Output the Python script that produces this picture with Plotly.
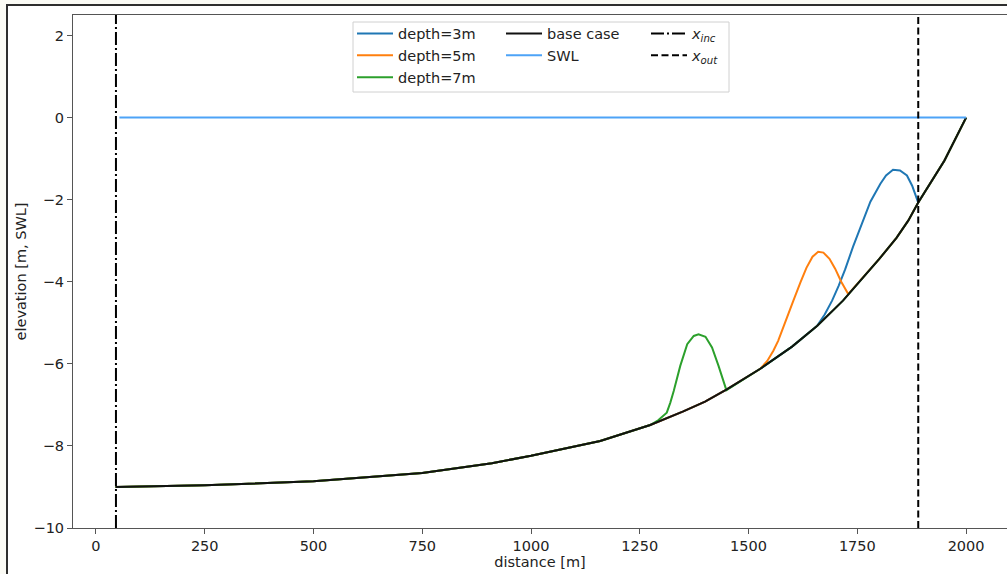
import plotly.graph_objects as go

# Cross-shore profile of the base case (distance along the transect, elevation re. SWL)
distance = [45, 250, 500, 750, 910, 1000, 1159, 1274, 1350, 1400, 1449, 1527, 1600,
            1658, 1717, 1767, 1800, 1840, 1867, 1890, 1950, 2000]
elevation = [-9.00, -8.96, -8.86, -8.66, -8.42, -8.24, -7.88, -7.49, -7.16, -6.92, -6.63,
             -6.12, -5.58, -5.07, -4.46, -3.85, -3.45, -2.93, -2.51, -2.07, -1.05, 0.00]

# Nourishment bumps placed at different crest depths
bump3_x = [1658, 1675, 1692, 1707, 1722, 1740, 1764, 1780, 1803, 1816, 1832, 1848, 1864, 1876, 1890]
bump3_z = [-5.07, -4.80, -4.46, -4.10, -3.70, -3.15, -2.51, -2.05, -1.61, -1.41, -1.27, -1.29,
           -1.41, -1.66, -2.07]

bump5_x = [1527, 1543, 1557, 1568, 1580, 1591, 1603, 1619, 1633, 1647, 1660, 1672, 1686,
           1699, 1713, 1729]
bump5_z = [-6.12, -5.93, -5.68, -5.44, -5.12, -4.80, -4.46, -4.02, -3.66, -3.39, -3.27,
           -3.29, -3.44, -3.68, -4.00, -4.30]

bump7_x = [1274, 1293, 1305, 1312, 1320, 1328, 1343, 1359, 1374, 1385, 1401, 1416, 1431, 1449]
bump7_z = [-7.49, -7.37, -7.27, -7.19, -6.95, -6.66, -6.05, -5.52, -5.32, -5.28, -5.34,
           -5.60, -6.05, -6.64]

# Still water level and boundary positions
swl_x = [54, 2000]
swl_z = [0, 0]
x_inc = 46
x_out = 1890

X_RANGE = [-52.75, 2094]
Y_RANGE = [-10, 2.5]
x_ticks = [0, 250, 500, 750, 1000, 1250, 1500, 1750, 2000]
y_ticks = [-10, -8, -6, -4, -2, 0, 2]

FONT = "DejaVu Sans"
TEXT = "#222222"
W, H = 1007, 574
ML, MR, MT, MB = 73, 0, 15, 46
PW, PH = W - ML - MR, H - MT - MB


def px_to_paper(px, py):
    return (px - ML) / PW, (H - MB - py) / PH


def with_bump(bx, bz):
    """Base profile with the bump section swapped in."""
    before = [(x, z) for x, z in zip(distance, elevation) if x < bx[0]]
    after = [(x, z) for x, z in zip(distance, elevation) if x > bx[-1]]
    xs = [p[0] for p in before] + bx + [p[0] for p in after]
    zs = [p[1] for p in before] + bz + [p[1] for p in after]
    return xs, zs


fig = go.Figure()

for name, bx, bz, color in [("depth=3m", bump3_x, bump3_z, "#1f77b4"),
                            ("depth=5m", bump5_x, bump5_z, "#ff7f0e"),
                            ("depth=7m", bump7_x, bump7_z, "#2ca02c")]:
    xs, zs = with_bump(bx, bz)
    fig.add_trace(go.Scatter(x=xs, y=zs, mode="lines", name=name,
                             line=dict(color=color, width=2), legend="legend"))

fig.add_trace(go.Scatter(x=distance, y=elevation, mode="lines", name="base case",
                         line=dict(color="#111111", width=2), legend="legend2"))
fig.add_trace(go.Scatter(x=swl_x, y=swl_z, mode="lines", name="SWL",
                         line=dict(color="#4da3f7", width=2), legend="legend2"))

fig.add_trace(go.Scatter(x=[x_inc, x_inc], y=Y_RANGE, mode="lines",
                         name="<i>x</i><sub><i>inc</i></sub>",
                         line=dict(color="black", width=2, dash="13px,3px,2px,3px"),
                         legend="legend3"))
fig.add_trace(go.Scatter(x=[x_out, x_out], y=Y_RANGE, mode="lines",
                         name="<i>x</i><sub><i>out</i></sub>",
                         line=dict(color="black", width=2, dash="7px,3.5px"),
                         legend="legend3"))

# Figure frame and legend box
fx0, fy1 = px_to_paper(7, 5)
lx0, ly0 = px_to_paper(353, 92)
lx1, ly1 = px_to_paper(729, 22)
shapes = [
    dict(type="rect", xref="paper", yref="paper", x0=fx0, x1=1.2, y0=-0.3, y1=fy1,
         line=dict(color="#2e2e2e", width=2), fillcolor="white", layer="below"),
    dict(type="rect", xref="paper", yref="paper", x0=lx0, x1=lx1, y0=ly0, y1=ly1,
         line=dict(color="#d0d0d0", width=1), fillcolor="white", layer="below"),
]

leg_common = dict(bgcolor="rgba(0,0,0,0)", borderwidth=0, xanchor="left", yanchor="top",
                  itemwidth=36, font=dict(family=FONT, size=14.5, color=TEXT))
c1x, ly = px_to_paper(352, 17.5)
c2x, _ = px_to_paper(501, 17.5)
c3x, _ = px_to_paper(646, 17.5)

axis_common = dict(showgrid=False, zeroline=False, showline=True, linecolor="#555555",
                   linewidth=1, ticks="outside", ticklen=5, tickwidth=1, tickcolor="#555555",
                   tickfont=dict(family=FONT, size=14.5, color=TEXT))

fig.update_layout(
    width=W, height=H,
    margin=dict(l=ML, r=MR, t=MT, b=MB, pad=0),
    paper_bgcolor="#fbfbf5", plot_bgcolor="white",
    showlegend=True,
    legend=dict(x=c1x, y=ly, **leg_common),
    legend2=dict(x=c2x, y=ly, **leg_common),
    legend3=dict(x=c3x, y=ly, **leg_common),
    shapes=shapes,
    xaxis=dict(range=X_RANGE, tickvals=x_ticks, mirror=True,
               title=dict(text="distance [m]", font=dict(family=FONT, size=14.5, color=TEXT),
                          standoff=3),
               **axis_common),
    yaxis=dict(range=Y_RANGE, tickvals=y_ticks, mirror=False,
               title=dict(text="elevation [m, SWL]", font=dict(family=FONT, size=14.5, color=TEXT),
                          standoff=3),
               **axis_common),
)

fig.write_html("out.html")
